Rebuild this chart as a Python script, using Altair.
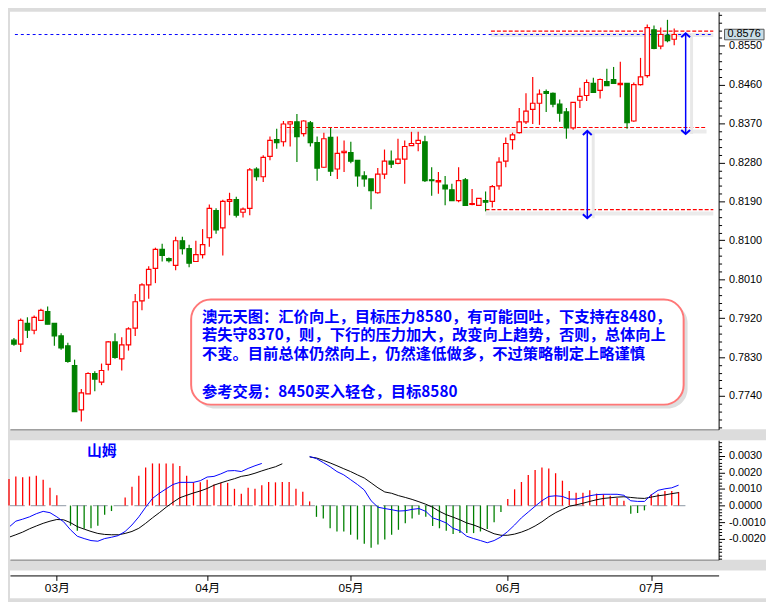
import altair as alt
import pandas as pd

# ---------------- data ----------------
opens = [0.7869, 0.7860, 0.7908, 0.7892, 0.7915, 0.7935, 0.7908, 0.7879, 0.7856, 0.7810,
         0.7708, 0.7745, 0.7792, 0.7772, 0.7813, 0.7865, 0.7826, 0.7858, 0.7897, 0.7960,
         0.7997, 0.8035, 0.8079, 0.8058, 0.8042, 0.8099, 0.8081, 0.8051, 0.8067, 0.8106,
         0.8169, 0.8129, 0.8190, 0.8194, 0.8165, 0.8174, 0.8265, 0.8247, 0.8294, 0.8333,
         0.8328, 0.8369, 0.8374, 0.8347, 0.8372, 0.8326, 0.8269, 0.8338, 0.8265, 0.8303,
         0.8303, 0.8285, 0.8249, 0.8242, 0.8210, 0.8253, 0.8283, 0.8278, 0.8288, 0.8319,
         0.8324, 0.8328, 0.8240, 0.8235, 0.8228, 0.8217, 0.8192, 0.8240, 0.8183, 0.8181,
         0.8192, 0.8190, 0.8226, 0.8283, 0.8333, 0.8349, 0.8374, 0.8403, 0.8417, 0.8444,
         0.8440, 0.8415, 0.8397, 0.8360, 0.8424, 0.8435, 0.8463, 0.8447, 0.8467, 0.8472,
         0.8460, 0.8463, 0.8376, 0.8460, 0.8481, 0.8587, 0.8549, 0.8574, 0.8565]
highs = [0.7874, 0.7919, 0.7922, 0.7926, 0.7942, 0.7947, 0.7908, 0.7885, 0.7863, 0.7824,
         0.7756, 0.7795, 0.7797, 0.7815, 0.7867, 0.7885, 0.7876, 0.7899, 0.7976, 0.8001,
         0.8040, 0.8083, 0.8092, 0.8060, 0.8108, 0.8108, 0.8090, 0.8099, 0.8126, 0.8183,
         0.8174, 0.8194, 0.8210, 0.8201, 0.8176, 0.8267, 0.8269, 0.8297, 0.8340, 0.8358,
         0.8376, 0.8376, 0.8392, 0.8378, 0.8376, 0.8340, 0.8349, 0.8360, 0.8340, 0.8331,
         0.8328, 0.8285, 0.8260, 0.8242, 0.8267, 0.8310, 0.8308, 0.8335, 0.8331, 0.8351,
         0.8351, 0.8342, 0.8269, 0.8258, 0.8249, 0.8231, 0.8269, 0.8244, 0.8219, 0.8197,
         0.8213, 0.8228, 0.8292, 0.8338, 0.8349, 0.8406, 0.8440, 0.8478, 0.8449, 0.8449,
         0.8442, 0.8426, 0.8406, 0.8419, 0.8453, 0.8472, 0.8476, 0.8474, 0.8497, 0.8501,
         0.8513, 0.8463, 0.8465, 0.8522, 0.8599, 0.8597, 0.8592, 0.8610, 0.8590]
lows = [0.7856, 0.7842, 0.7874, 0.7883, 0.7915, 0.7906, 0.7856, 0.7847, 0.7817, 0.7704,
        0.7681, 0.7745, 0.7751, 0.7765, 0.7799, 0.7826, 0.7799, 0.7845, 0.7879, 0.7938,
        0.7965, 0.8001, 0.8051, 0.8049, 0.8031, 0.8067, 0.8038, 0.8051, 0.8058, 0.8085,
        0.8115, 0.8065, 0.8158, 0.8153, 0.8153, 0.8158, 0.8238, 0.8235, 0.8285, 0.8312,
        0.8317, 0.8317, 0.8281, 0.8340, 0.8317, 0.8238, 0.8267, 0.8249, 0.8242, 0.8258,
        0.8278, 0.8224, 0.8224, 0.8172, 0.8208, 0.8242, 0.8267, 0.8276, 0.8231, 0.8319,
        0.8306, 0.8235, 0.8203, 0.8208, 0.8181, 0.8192, 0.8188, 0.8181, 0.8181, 0.8181,
        0.8167, 0.8176, 0.8217, 0.8269, 0.8310, 0.8347, 0.8369, 0.8369, 0.8367, 0.8397,
        0.8408, 0.8374, 0.8335, 0.8356, 0.8406, 0.8422, 0.8442, 0.8428, 0.8458, 0.8463,
        0.8431, 0.8358, 0.8374, 0.8458, 0.8476, 0.8542, 0.8542, 0.8558, 0.8551]
closes = [0.7860, 0.7915, 0.7892, 0.7922, 0.7938, 0.7906, 0.7879, 0.7851, 0.7820, 0.7704,
          0.7747, 0.7792, 0.7779, 0.7799, 0.7865, 0.7829, 0.7858, 0.7895, 0.7958, 0.7997,
          0.8033, 0.8079, 0.8065, 0.8053, 0.8099, 0.8081, 0.8047, 0.8067, 0.8090, 0.8174,
          0.8124, 0.8190, 0.8194, 0.8158, 0.8172, 0.8263, 0.8247, 0.8292, 0.8331, 0.8326,
          0.8369, 0.8374, 0.8340, 0.8376, 0.8326, 0.8267, 0.8335, 0.8260, 0.8301, 0.8306,
          0.8283, 0.8249, 0.8242, 0.8215, 0.8253, 0.8283, 0.8276, 0.8288, 0.8317, 0.8324,
          0.8331, 0.8238, 0.8238, 0.8238, 0.8219, 0.8192, 0.8238, 0.8181, 0.8185, 0.8197,
          0.8188, 0.8224, 0.8281, 0.8324, 0.8344, 0.8374, 0.8399, 0.8417, 0.8438, 0.8440,
          0.8415, 0.8394, 0.8360, 0.8419, 0.8433, 0.8465, 0.8442, 0.8472, 0.8458, 0.8463,
          0.8463, 0.8372, 0.8460, 0.8478, 0.8592, 0.8544, 0.8576, 0.8562, 0.8576]

hist = [0.0016, 0.00175, 0.0017, 0.00175, 0.0018, 0.00156, 0.00107, 0.00062, 0.0, -0.00121,
        -0.00152, -0.0014, -0.00137, -0.00121, -0.00055, -0.00033, 0.0, 0.00049, 0.00113, 0.0018,
        0.0023, 0.00254, 0.00254, 0.00254, 0.00254, 0.00238, 0.0018, 0.0014, 0.0014, 0.00156,
        0.00127, 0.00137, 0.00137, 0.00101, 0.00072, 0.00107, 0.00101, 0.00123, 0.00142, 0.0014,
        0.00142, 0.00142, 0.00101, 0.00084, 0.00025, -0.00068, -0.00078, -0.00137, -0.00156, -0.00156,
        -0.00176, -0.00205, -0.0023, -0.00254, -0.00234, -0.00205, -0.00176, -0.00146, -0.00107, -0.00078,
        -0.00055, -0.00068, -0.00123, -0.00137, -0.00152, -0.00172, -0.00166, -0.00166, -0.00166, -0.00156,
        -0.00142, -0.00101, -0.00039, 0.00039, 0.00098, 0.00142, 0.00185, 0.00215, 0.0023, 0.00224,
        0.00195, 0.0015, 0.00088, 0.00078, 0.00078, 0.00092, 0.00072, 0.00068, 0.00059, 0.00045,
        0.00029, -0.00049, -0.00045, -0.00029, 0.00068, 0.00072, 0.00088, 0.00088, 0.00082]
dif = [-0.0013, -0.00094, -0.00082, -0.00068, -0.00049, -0.00035, -0.00043, -0.00068, -0.00098, -0.00146,
       -0.00185, -0.00199, -0.00211, -0.00215, -0.00199, -0.00191, -0.00181, -0.00156, -0.00117, -0.00068,
       -0.0001, 0.00043, 0.00074, 0.00101, 0.00127, 0.0014, 0.0014, 0.0014, 0.0015, 0.00172,
       0.00176, 0.00191, 0.00209, 0.00211, 0.00205, 0.00224, 0.0024, 0.00254, None, None,
       None, None, None, None, 0.00296, 0.00283, 0.00259, 0.00234, 0.00205, 0.00185,
       0.00156, 0.00127, 0.00094, 0.00029, -0.0001, -0.00018, -0.00025, -0.00033, -0.00031, -0.00023,
       -0.00018, -0.00035, -0.00074, -0.00088, -0.00105, -0.00137, -0.00152, -0.00185, -0.00199, -0.00211,
       -0.00224, -0.00211, -0.00189, -0.00156, -0.00117, -0.00074, -0.00039, -0.00004, 0.00029, 0.00055,
       0.00059, 0.00055, 0.00039, 0.00039, 0.00049, 0.00059, 0.00066, 0.00068, 0.00068, 0.00068,
       0.00062, 0.00029, 0.00025, 0.00025, 0.00064, 0.00092, 0.00101, 0.00107, 0.00123]
dea = [-0.00191, -0.00176, -0.0016, -0.0014, -0.00123, -0.00107, -0.00094, -0.00084, -0.00086, -0.00103,
       -0.00127, -0.00142, -0.00156, -0.00168, -0.00174, -0.00176, -0.00176, -0.00168, -0.00156, -0.00137,
       -0.00107, -0.00074, -0.00043, -0.0001, 0.0002, 0.00047, 0.00062, 0.00076, 0.00088, 0.00103,
       0.00123, 0.00137, 0.0015, 0.00162, 0.00176, 0.00183, 0.00195, 0.00209, 0.00222, 0.00234,
       0.00252, None, None, None, 0.00293, 0.00287, 0.00273, 0.00257, 0.0024, 0.00222,
       0.00205, 0.00185, 0.00166, 0.00137, 0.00107, 0.00082, 0.00074, 0.0006, 0.00049, 0.00037,
       0.00023, 0.00008, -0.0001, -0.00035, -0.00055, -0.0007, -0.00086, -0.00105, -0.00117, -0.00133,
       -0.00152, -0.0017, -0.00179, -0.00179, -0.00172, -0.0016, -0.00144, -0.00123, -0.00098, -0.00068,
       -0.00043, -0.00023, -0.00004, 0.00004, 0.00014, 0.00025, 0.00035, 0.00043, 0.00047, 0.00051,
       0.00053, 0.00049, 0.00045, 0.00043, 0.00051, 0.00059, 0.00064, 0.00072, 0.00078]

month_pos = [7, 29, 50, 73, 94]
month_labels = ["03月", "04月", "05月", "06月", "07月"]
price_ticks = [0.7740, 0.7830, 0.7920, 0.8010, 0.8100, 0.8190, 0.8280, 0.8370, 0.8460, 0.8550]
macd_ticks = [-0.0020, -0.0010, 0.0, 0.0010, 0.0020, 0.0030]

last_price = 0.8576
res_levels = [0.8584, 0.8361, 0.8171]
res_start = [70.8, 39.6, 70.0]
res_end = [103.8, 102.8, 103.8]
arrow_x = [85.1, 99.7]
arrow_top = [0.8353, 0.8579]
arrow_bottom = [0.8151, 0.8346]
note_lines = ["澳元天图：汇价向上，目标压力8580，有可能回吐，下支持在8480，",
              "若失守8370，则，下行的压力加大，改变向上趋势，否则，总体向上",
              "不变。目前总体仍然向上，仍然逢低做多，不过策略制定上略谨慎",
              "参考交易：8450买入轻仓，目标8580"]
note_y = [0.7923, 0.7880, 0.7837, 0.7750]
note_x = 27.9
box_x = [26.3, 99.4]
box_y = [0.7963, 0.7720]
macd_title = "山姆"
macd_title_pos = [11.4, 0.00329]

# ---------------- layout / scales ----------------
VIEW_W = 766
PLOT_W = 718
MAIN_H = 423
MACD_H = 121
AXIS_H = 28
X_DOM = [0.143, 103.86]
PRICE_DOM = [0.76628, 0.86284]
MACD_DOM = [-0.00326, 0.00394]
LABEL_FONT = "Liberation Sans"
CJK = "Noto Sans CJK SC"

xs = alt.Scale(domain=X_DOM, range=[0, PLOT_W], nice=False, zero=False)
ys = alt.Scale(domain=PRICE_DOM, nice=False, zero=False)
ym = alt.Scale(domain=MACD_DOM, nice=False, zero=False)

x_axis_panel = alt.Axis(title=None, labels=False, ticks=False, grid=False,
                        domainColor="#7a7a7a", domainWidth=1)


def right_axis(minor_values, test, fmt_expr):
    return alt.Axis(
        orient="right", offset=PLOT_W - VIEW_W, title=None, grid=False, values=minor_values,
        labelExpr=f"({test}) ? {fmt_expr} : ''",
        tickSize={"condition": {"test": test, "value": 6}, "value": 3},
        labelFontSize={"condition": {"test": test, "value": 11}, "value": 0},
        labelPadding=4, labelFont=LABEL_FONT, labelColor="black",
        domainColor="black", tickColor="black", labelOverlap=False,
        labelFlush=False, labelBound=False)


p_step = round(price_ticks[1] - price_ticks[0], 4)
p_minor = [round(price_ticks[0] + p_step / 5 * k, 4) for k in range(-4, 50)]
p_test = (f"abs((datum.value - {price_ticks[0]}) / {p_step} - "
          f"round((datum.value - {price_ticks[0]}) / {p_step})) < 0.02")
y_axis_main = right_axis(p_minor, p_test, "format(datum.value, '.4f')")

m_step = round(macd_ticks[1] - macd_ticks[0], 4)
m_minor = [round(-0.0032 + m_step / 5 * k, 5) for k in range(0, 36)]
m_test = (f"datum.value > {macd_ticks[0] - m_step / 2} && datum.value < {macd_ticks[-1] + m_step / 2} && "
          f"abs(datum.value / {m_step} - round(datum.value / {m_step})) < 0.02")
y_axis_macd = right_axis(m_minor, m_test, "replace(format(datum.value, '.4f'), '\u2212', '-')")


def X(f):
    return alt.X(f"{f}:Q", scale=xs, axis=x_axis_panel)


def Y(f):
    return alt.Y(f"{f}:Q", scale=ys, axis=y_axis_main)


def YM(f):
    return alt.Y(f"{f}:Q", scale=ym, axis=y_axis_macd)


# ---------------- main price panel ----------------
N = len(closes)
candles = pd.DataFrame({"i": list(range(N)), "open": opens, "high": highs,
                        "low": lows, "close": closes})
candles["dir"] = ["up" if c >= o else "down" for o, c in zip(opens, closes)]

box_df = pd.DataFrame({"x1": [box_x[0]], "x2": [box_x[1]], "y1": [box_y[0]], "y2": [box_y[1]]})
note_df = pd.DataFrame({"x": [note_x] * len(note_lines), "y": note_y, "t": note_lines})
res_df = pd.DataFrame({"y": res_levels, "x1": res_start, "x2": res_end})
last_df = pd.DataFrame({"y": [last_price], "x1": [X_DOM[0]], "x2": [X_DOM[1]],
                        "yt": [last_price + 0.00122], "yb": [last_price - 0.00122],
                        "t": [f"{last_price:.4f}"]})
arrow_df = pd.DataFrame({"x": arrow_x, "top": arrow_top, "bot": arrow_bottom})

note_shadow = alt.Chart(box_df).mark_rect(cornerRadius=20, fill="#dedede", xOffset=4, x2Offset=4,
                                          yOffset=4, y2Offset=4).encode(
    x=X("x1"), x2="x2", y=Y("y1"), y2="y2")
note_box = alt.Chart(box_df).mark_rect(cornerRadius=20, fill="white", stroke="#ff7777",
                                       strokeWidth=2).encode(
    x=X("x1"), x2="x2", y=Y("y1"), y2="y2")
note_text = alt.Chart(note_df).mark_text(align="left", baseline="middle", font=CJK, fontSize=15.5,
                                         fontWeight="bold", color="#0000ff").encode(
    x=X("x"), y=Y("y"), text="t:N")

res_shadow = alt.Chart(res_df).mark_rule(color="#ebebeb", strokeWidth=4, yOffset=4).encode(
    x=X("x1"), x2="x2", y=Y("y"))
res_lines = alt.Chart(res_df).mark_rule(color="#ff0000", strokeWidth=1.2, strokeDash=[4, 2]).encode(
    x=X("x1"), x2="x2", y=Y("y"))
last_line = alt.Chart(last_df).mark_rule(color="#0000ff", strokeWidth=1, strokeDash=[3, 3]).encode(
    x=X("x1"), x2="x2", y=Y("y"))

dir_color = alt.Scale(domain=["up", "down"], range=["#ff0000", "#008000"])
wicks = alt.Chart(candles).mark_rule(strokeWidth=1.2).encode(
    x=X("i"), y=Y("low"), y2="high",
    color=alt.Color("dir:N", scale=dir_color, legend=None))
bodies = alt.Chart(candles).mark_bar(size=4.5, strokeWidth=1.2).encode(
    x=X("i"), y=Y("open"), y2="close",
    fill=alt.Fill("dir:N", scale=alt.Scale(domain=["up", "down"], range=["#ffffff", "#008000"]),
                  legend=None),
    stroke=alt.Stroke("dir:N", scale=dir_color, legend=None))

arrow_shadow = alt.Chart(arrow_df).mark_rule(color="#e8e8e8", strokeWidth=3, xOffset=6).encode(
    x=X("x"), y=Y("top"), y2="bot")
arrow_shaft = alt.Chart(arrow_df).mark_rule(color="#0000ff", strokeWidth=1.5).encode(
    x=X("x"), y=Y("top"), y2="bot")
head_up = alt.Chart(arrow_df).mark_point(shape="M-1,0.9L0,0L1,0.9", size=80, filled=False,
                                         color="#0000ff", strokeWidth=2, opacity=1).encode(
    x=X("x"), y=Y("top"))
head_down = alt.Chart(arrow_df).mark_point(shape="M-1,-0.9L0,0L1,-0.9", size=80, filled=False,
                                           color="#0000ff", strokeWidth=2, opacity=1).encode(
    x=X("x"), y=Y("bot"))

price_box = alt.Chart(last_df).mark_rect(fill="#c9dde6", stroke="#555555", strokeWidth=1).encode(
    x=alt.value(PLOT_W + 6), x2=alt.value(VIEW_W - 2), y=Y("yt"), y2="yb")
price_txt = alt.Chart(last_df).mark_text(align="left", baseline="middle", font=LABEL_FONT,
                                         fontSize=11, color="black").encode(
    x=alt.value(PLOT_W + 9), y=Y("y"), text="t:N")

main = alt.layer(note_shadow, note_box, note_text, res_shadow, res_lines, last_line,
                 wicks, bodies, arrow_shadow, arrow_shaft, head_up, head_down,
                 price_box, price_txt).properties(width=VIEW_W, height=MAIN_H)

# ---------------- MACD panel ----------------
macd_df = pd.DataFrame({"i": list(range(N)), "hist": hist, "zero": [0.0] * N})
macd_df["sign"] = ["pos" if h >= 0 else "neg" for h in hist]


def segments(vals, name):
    rows, seg, prev_none = [], 0, False
    for k, v in enumerate(vals):
        if v is None:
            prev_none = True
            continue
        if prev_none:
            seg += 1
            prev_none = False
        rows.append({"i": k, "v": v, "seg": seg, "name": name})
    return pd.DataFrame(rows)


dif_df = segments(dif, "DIF")
dea_df = segments(dea, "DEA")
zero_df = pd.DataFrame({"x1": [X_DOM[0]], "x2": [99.0], "y": [0.0]})
title_df = pd.DataFrame({"x": [macd_title_pos[0]], "y": [macd_title_pos[1]], "t": [macd_title]})

zero_line = alt.Chart(zero_df).mark_rule(color="#a4adb6", strokeWidth=1.2, strokeDash=[15, 6]).encode(
    x=X("x1"), x2="x2", y=YM("y"))
bars = alt.Chart(macd_df).mark_rule(strokeWidth=1.3).encode(
    x=X("i"), y=YM("zero"), y2="hist",
    color=alt.Color("sign:N", scale=alt.Scale(domain=["pos", "neg"], range=["#ff0000", "#00bb00"]),
                    legend=None))
dea_line = alt.Chart(dea_df).mark_line(color="black", strokeWidth=1, clip=True).encode(
    x=X("i"), y=YM("v"), detail="seg:N")
dif_line = alt.Chart(dif_df).mark_line(color="#0000ff", strokeWidth=1, clip=True).encode(
    x=X("i"), y=YM("v"), detail="seg:N")
macd_text = alt.Chart(title_df).mark_text(align="left", baseline="middle", font=CJK, fontSize=15,
                                          fontWeight="bold", color="#0000ff").encode(
    x=X("x"), y=YM("y"), text="t:N")

macd = alt.layer(zero_line, bars, dea_line, dif_line, macd_text).properties(
    width=VIEW_W, height=MACD_H)

# ---------------- month axis strip ----------------
month_df = pd.DataFrame({"i": month_pos, "label": month_labels})
label_expr = "''"
for p, lab in reversed(list(zip(month_pos, month_labels))):
    label_expr = f"datum.value == {p} ? '{lab}' : ({label_expr})"

axis_strip = alt.Chart(month_df).mark_point(opacity=0).encode(
    x=alt.X("i:Q", scale=xs, axis=alt.Axis(
        title=None, orient="bottom", offset=5 - AXIS_H, values=month_pos, labelExpr=label_expr,
        tickSize=5, tickColor="black", domainColor="black", labelColor="black",
        labelFont=f"{LABEL_FONT}, {CJK}", labelFontSize=12, labelPadding=2, grid=False,
        labelFlush=False, labelBound=False))
).properties(width=VIEW_W, height=AXIS_H)

chart = alt.vconcat(main, macd, axis_strip, spacing=11).properties(
    background="#dcdcdc", padding=0
).configure_view(fill="white", stroke=None)

chart.save("out.html", embed_options={"renderer": "svg", "actions": False})
